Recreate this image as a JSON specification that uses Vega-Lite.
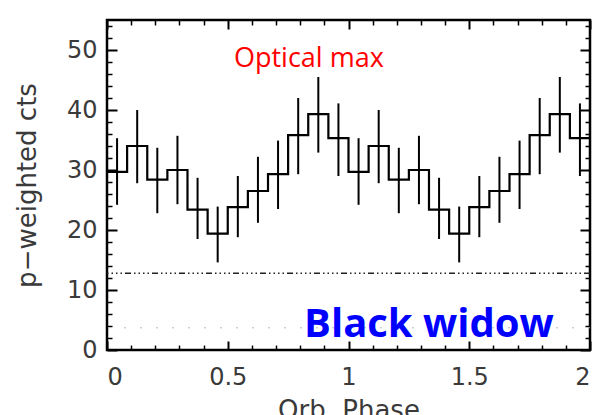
{
  "$schema": "https://vega.github.io/schema/vega-lite/v6.json",
  "width": 483,
  "height": 330,
  "autosize": {"type": "none"},
  "padding": {"left": 107, "top": 20, "right": 11, "bottom": 65},
  "background": "white",
  "config": {
    "view": {"stroke": "black", "strokeWidth": 2.5, "fill": "white"},
    "axis": {
      "grid": false,
      "domain": false,
      "tickColor": "black",
      "labelFont": "DejaVu Sans",
      "labelFontSize": 24,
      "labelColor": "#3a3a3a",
      "titleFont": "DejaVu Sans",
      "titleFontSize": 26,
      "titleFontWeight": "normal",
      "titleColor": "#3a3a3a"
    }
  },
  "datasets": {
    "bins": [
      {"phase": 0.0417, "cts": 29.7, "lo": 24.2, "hi": 35.3},
      {"phase": 0.125, "cts": 34.0, "lo": 27.8, "hi": 40.0},
      {"phase": 0.2083, "cts": 28.4, "lo": 22.8, "hi": 33.7},
      {"phase": 0.2917, "cts": 30.0, "lo": 24.3, "hi": 35.7},
      {"phase": 0.375, "cts": 23.4, "lo": 18.5, "hi": 28.7},
      {"phase": 0.4583, "cts": 19.4, "lo": 14.6, "hi": 23.9},
      {"phase": 0.5417, "cts": 23.8, "lo": 18.8, "hi": 29.0},
      {"phase": 0.625, "cts": 26.5, "lo": 21.2, "hi": 32.2},
      {"phase": 0.7083, "cts": 29.3, "lo": 23.5, "hi": 34.9},
      {"phase": 0.7917, "cts": 35.8, "lo": 29.3, "hi": 42.0},
      {"phase": 0.875, "cts": 39.3, "lo": 32.9, "hi": 45.5},
      {"phase": 0.9583, "cts": 35.3, "lo": 29.0, "hi": 41.1},
      {"phase": 1.0417, "cts": 29.7, "lo": 24.2, "hi": 35.3},
      {"phase": 1.125, "cts": 34.0, "lo": 27.8, "hi": 40.0},
      {"phase": 1.2083, "cts": 28.4, "lo": 22.8, "hi": 33.7},
      {"phase": 1.2917, "cts": 30.0, "lo": 24.3, "hi": 35.7},
      {"phase": 1.375, "cts": 23.4, "lo": 18.5, "hi": 28.7},
      {"phase": 1.4583, "cts": 19.4, "lo": 14.6, "hi": 23.9},
      {"phase": 1.5417, "cts": 23.8, "lo": 18.8, "hi": 29.0},
      {"phase": 1.625, "cts": 26.5, "lo": 21.2, "hi": 32.2},
      {"phase": 1.7083, "cts": 29.3, "lo": 23.5, "hi": 34.9},
      {"phase": 1.7917, "cts": 35.8, "lo": 29.3, "hi": 42.0},
      {"phase": 1.875, "cts": 39.3, "lo": 32.9, "hi": 45.5},
      {"phase": 1.9583, "cts": 35.3, "lo": 29.0, "hi": 41.1}
    ],
    "steps": [
      {"edge": 0.0, "cts": 29.7},
      {"edge": 0.0833, "cts": 34.0},
      {"edge": 0.1667, "cts": 28.4},
      {"edge": 0.25, "cts": 30.0},
      {"edge": 0.3333, "cts": 23.4},
      {"edge": 0.4167, "cts": 19.4},
      {"edge": 0.5, "cts": 23.8},
      {"edge": 0.5833, "cts": 26.5},
      {"edge": 0.6667, "cts": 29.3},
      {"edge": 0.75, "cts": 35.8},
      {"edge": 0.8333, "cts": 39.3},
      {"edge": 0.9167, "cts": 35.3},
      {"edge": 1.0, "cts": 29.7},
      {"edge": 1.0833, "cts": 34.0},
      {"edge": 1.1667, "cts": 28.4},
      {"edge": 1.25, "cts": 30.0},
      {"edge": 1.3333, "cts": 23.4},
      {"edge": 1.4167, "cts": 19.4},
      {"edge": 1.5, "cts": 23.8},
      {"edge": 1.5833, "cts": 26.5},
      {"edge": 1.6667, "cts": 29.3},
      {"edge": 1.75, "cts": 35.8},
      {"edge": 1.8333, "cts": 39.3},
      {"edge": 1.9167, "cts": 35.3},
      {"edge": 2.0, "cts": 35.3}
    ],
    "background": [{"level": 12.8}],
    "faint": [{"level": 3.7}],
    "note1": [{"label": "Optical max", "phase": 0.836, "cts": 47.2}],
    "note2": [{"label": "Black widow", "phase": 1.333, "cts": 2.1}]
  },
  "resolve": {"axis": {"x": "independent", "y": "independent"}},
  "layer": [
    {
      "data": {"name": "faint"},
      "mark": {"type": "rule", "color": "#bbbbbb", "strokeWidth": 1, "strokeDash": [2, 14]},
      "encoding": {
        "y": {"field": "level", "type": "quantitative", "scale": {"domain": [0, 55], "nice": false}, "axis": null}
      }
    },
    {
      "data": {"name": "background"},
      "mark": {"type": "rule", "color": "#222222", "strokeWidth": 1.5, "strokeDash": [6, 3, 1.5, 3, 1.5, 3, 1.5, 3, 1.5, 3]},
      "encoding": {
        "y": {"field": "level", "type": "quantitative", "scale": {"domain": [0, 55], "nice": false}, "axis": null}
      }
    },
    {
      "data": {"name": "steps"},
      "mark": {"type": "line", "interpolate": "step-after", "color": "black", "strokeWidth": 2.2},
      "encoding": {
        "x": {"field": "edge", "type": "quantitative", "scale": {"domain": [0, 2], "nice": false},
          "axis": {"orient": "bottom", "values": [0, 0.5, 1, 1.5, 2], "format": ".1~f", "tickSize": -9, "tickWidth": 2, "labelPadding": 24, "title": "Orb. Phase", "titlePadding": 8}},
        "y": {"field": "cts", "type": "quantitative", "scale": {"domain": [0, 55], "nice": false},
          "axis": {"orient": "left", "values": [0, 10, 20, 30, 40, 50], "tickSize": -10, "tickWidth": 2, "labelPadding": 20, "title": "p−weighted cts", "titlePadding": 26}}
      }
    },
    {
      "data": {"name": "bins"},
      "mark": {"type": "rule", "color": "black", "strokeWidth": 2},
      "encoding": {
        "x": {"field": "phase", "type": "quantitative", "scale": {"domain": [0, 2], "nice": false},
          "axis": {"orient": "bottom", "values": [0.1, 0.2, 0.3, 0.4, 0.6, 0.7, 0.8, 0.9, 1.1, 1.2, 1.3, 1.4, 1.6, 1.7, 1.8, 1.9], "tickSize": -5, "tickWidth": 1.5, "labels": false, "title": null}},
        "y": {"field": "lo", "type": "quantitative", "scale": {"domain": [0, 55], "nice": false},
          "axis": {"orient": "left", "values": [2, 4, 6, 8, 12, 14, 16, 18, 22, 24, 26, 28, 32, 34, 36, 38, 42, 44, 46, 48, 52, 54], "tickSize": -5, "tickWidth": 1.5, "labels": false, "title": null}},
        "y2": {"field": "hi"}
      }
    },
    {
      "data": {"name": "bins"},
      "mark": {"type": "point", "opacity": 0},
      "encoding": {
        "x": {"field": "phase", "type": "quantitative", "scale": {"domain": [0, 2], "nice": false},
          "axis": {"orient": "top", "values": [0, 0.5, 1, 1.5, 2], "tickSize": -9, "tickWidth": 2, "labels": false, "title": null}},
        "y": {"field": "cts", "type": "quantitative", "scale": {"domain": [0, 55], "nice": false},
          "axis": {"orient": "right", "values": [0, 10, 20, 30, 40, 50], "tickSize": -10, "tickWidth": 2, "labels": false, "title": null}}
      }
    },
    {
      "data": {"name": "bins"},
      "mark": {"type": "point", "opacity": 0},
      "encoding": {
        "x": {"field": "phase", "type": "quantitative", "scale": {"domain": [0, 2], "nice": false},
          "axis": {"orient": "top", "values": [0.1, 0.2, 0.3, 0.4, 0.6, 0.7, 0.8, 0.9, 1.1, 1.2, 1.3, 1.4, 1.6, 1.7, 1.8, 1.9], "tickSize": -5, "tickWidth": 1.5, "labels": false, "title": null}},
        "y": {"field": "cts", "type": "quantitative", "scale": {"domain": [0, 55], "nice": false},
          "axis": {"orient": "right", "values": [2, 4, 6, 8, 12, 14, 16, 18, 22, 24, 26, 28, 32, 34, 36, 38, 42, 44, 46, 48, 52, 54], "tickSize": -5, "tickWidth": 1.5, "labels": false, "title": null}}
      }
    },
    {
      "data": {"name": "note1"},
      "mark": {"type": "text", "color": "#ff0000", "font": "Open Sans", "fontSize": 27, "align": "center", "baseline": "alphabetic"},
      "encoding": {
        "x": {"field": "phase", "type": "quantitative", "scale": {"domain": [0, 2], "nice": false}, "axis": null},
        "y": {"field": "cts", "type": "quantitative", "scale": {"domain": [0, 55], "nice": false}, "axis": null},
        "text": {"field": "label"}
      }
    },
    {
      "data": {"name": "note2"},
      "mark": {"type": "text", "color": "#0000ff", "font": "Open Sans", "fontSize": 40, "fontWeight": "bold", "align": "center", "baseline": "alphabetic"},
      "encoding": {
        "x": {"field": "phase", "type": "quantitative", "scale": {"domain": [0, 2], "nice": false}, "axis": null},
        "y": {"field": "cts", "type": "quantitative", "scale": {"domain": [0, 55], "nice": false}, "axis": null},
        "text": {"field": "label"}
      }
    }
  ]
}
